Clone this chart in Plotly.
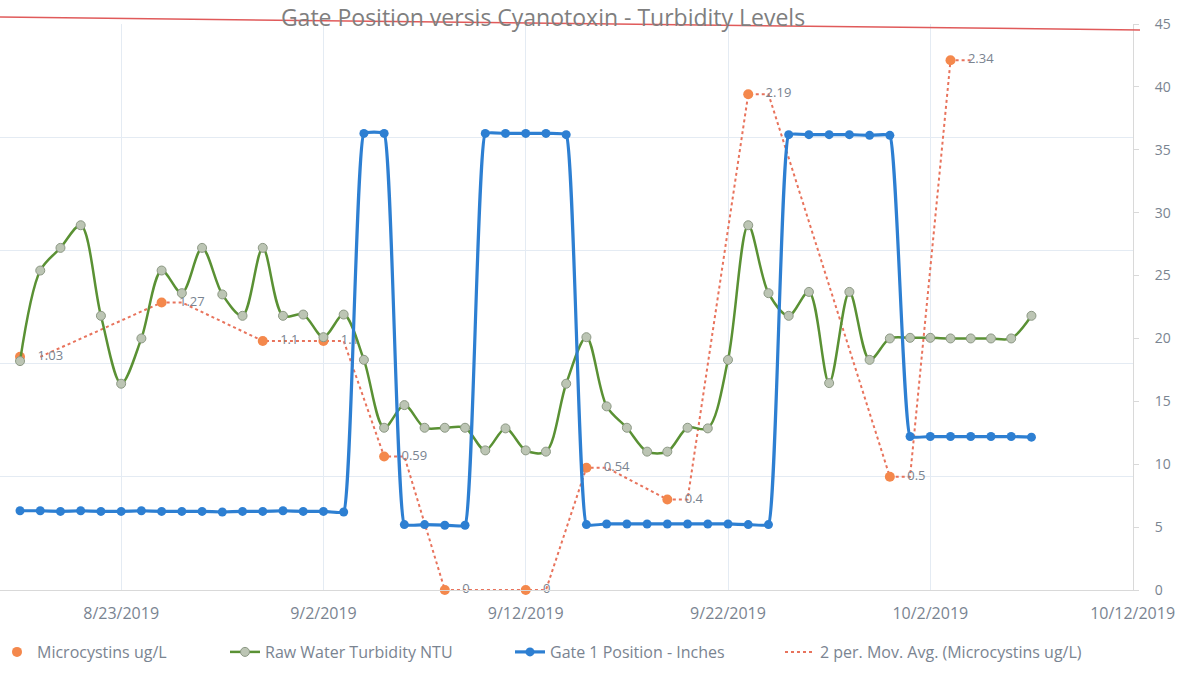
import plotly.graph_objects as go
import pandas as pd

# ---------------- data ----------------
day_start = "2019-08-18"
day_end = "2019-10-07"
days = [d.strftime("%Y-%m-%d") for d in pd.date_range(day_start, day_end, freq="D")]

turbidity_ntu = [
    18.2, 25.4, 27.2, 29.0, 21.8, 16.4, 20.0, 25.4, 23.6, 27.2, 23.5, 21.8, 27.2, 21.8,   # 8/18-8/31
    21.9, 20.1, 21.9, 18.3, 12.9, 14.7, 12.9, 12.9, 12.9, 11.1, 12.85, 11.1, 11.0, 16.4, 20.1,  # 9/1-9/15
    14.6, 12.9, 11.0, 11.0, 12.9, 12.85, 18.3, 29.0, 23.6, 21.8, 23.7, 16.45, 23.7, 18.3,  # 9/16-9/29
    20.0, 20.05, 20.05, 20.0, 20.0, 20.0, 20.0, 21.8,                                      # 9/30-10/7
]

gate_inches = [
    6.3, 6.3, 6.25, 6.3, 6.25, 6.25, 6.3, 6.25, 6.25, 6.25, 6.2, 6.25, 6.25, 6.3, 6.25, 6.25, 6.2,  # 8/18-9/3
    36.3, 36.3,                                   # 9/4-9/5
    5.2, 5.2, 5.15, 5.15,                         # 9/6-9/9
    36.3, 36.3, 36.3, 36.3, 36.2,                 # 9/10-9/14
    5.2, 5.25, 5.25, 5.25, 5.25, 5.25, 5.25, 5.25, 5.2, 5.2,  # 9/15-9/24
    36.2, 36.2, 36.2, 36.2, 36.15, 36.15,         # 9/25-9/30
    12.2, 12.2, 12.2, 12.2, 12.2, 12.2, 12.15,    # 10/1-10/7
]

micro_dates = ["2019-08-18", "2019-08-25", "2019-08-30", "2019-09-02", "2019-09-05", "2019-09-08",
               "2019-09-12", "2019-09-15", "2019-09-19", "2019-09-23", "2019-09-30", "2019-10-03"]
micro_ugl = [1.03, 1.27, 1.1, 1.1, 0.59, 0, 0, 0.54, 0.4, 2.19, 0.5, 2.34]

x_tick_start = "2019-08-13"
x_range = ["2019-08-17 00:15", "2019-10-12 00:30"]

# 2-period moving average trendline of the microcystin series (daily rows, blanks ignored)
micro_by_day = dict(zip(micro_dates, micro_ugl))
ma_x, ma_y = [], []
for i in range(1, len(days)):
    win = [micro_by_day.get(d) for d in (days[i - 1], days[i])]
    win = [w for w in win if w is not None]
    if win:
        ma_x.append(days[i])
        ma_y.append(sum(win) / len(win))

micro_labels = ["\u00a0\u00a0\u00a0" + f"{v:g}" for v in micro_ugl]

# ---------------- figure ----------------
W, H = 1183, 683
L, R, T, B = 0, 50, 24, 93
PW, PH = W - L - R, H - T - B
FONT = "Open Sans"
GREY = "#7A8491"

def px_x(p):
    return (p - L) / PW

def px_y(p):
    return (H - B - p) / PH

fig = go.Figure()

fig.add_trace(go.Scatter(
    x=ma_x, y=ma_y, mode="lines", yaxis="y",
    line=dict(color="#E8735C", width=2, dash="dot"),
    name="2 per. Mov. Avg. (Microcystins ug/L)", legend="legend4",
    hoverinfo="skip",
))
fig.add_trace(go.Scatter(
    x=micro_dates, y=micro_ugl, mode="markers+text", yaxis="y",
    marker=dict(color="#F4884C", size=10),
    text=micro_labels, textposition="middle right",
    textfont=dict(family=FONT, size=13, color=GREY),
    cliponaxis=False,
    name="Microcystins ug/L", legend="legend",
))
fig.add_trace(go.Scatter(
    x=days, y=turbidity_ntu, mode="lines+markers", yaxis="y2",
    line=dict(color="#5A9134", width=2.5, shape="spline", smoothing=0.9),
    marker=dict(size=9, color="#BCC5B4", line=dict(color="#8C9884", width=1)),
    name="Raw Water Turbidity NTU", legend="legend2",
))
fig.add_trace(go.Scatter(
    x=days, y=gate_inches, mode="lines+markers", yaxis="y2",
    line=dict(color="#2D7FD2", width=3.2, shape="spline", smoothing=0.3),
    marker=dict(size=9, color="#2D7FD2"),
    name="Gate 1 Position - Inches", legend="legend3",
))

leg_common = dict(orientation="h", xanchor="left", yanchor="middle",
                  bgcolor="rgba(0,0,0,0)", font=dict(family=FONT, size=16, color=GREY))
leg_y = px_y(652)

fig.update_layout(
    width=W, height=H,
    margin=dict(l=L, r=R, t=T, b=B, autoexpand=False),
    paper_bgcolor="white", plot_bgcolor="white",
    title=dict(text="Gate Position versis Cyanotoxin - Turbidity Levels",
               xref="container", yref="container", x=543 / W, y=1 - 18 / H,
               xanchor="center", yanchor="middle",
               font=dict(family=FONT, size=23, color="#7F7F7F")),
    xaxis=dict(type="date", range=x_range, tick0=x_tick_start, dtick=864000000,
               tickformat="%-m/%-d/%Y", showgrid=True, gridcolor="#E4EBF3",
               showline=True, linecolor="#D9D9D9", ticks="", zeroline=False,
               ticklabelstandoff=9,
               tickfont=dict(family=FONT, size=16, color=GREY)),
    yaxis=dict(range=[0, 2.5], dtick=0.5, showgrid=True, gridcolor="#E4EBF3",
               showticklabels=False, zeroline=False),
    yaxis2=dict(overlaying="y", side="right", range=[0, 45], dtick=5, showgrid=False,
                showline=True, linecolor="#D9D9D9", ticks="outside", ticklen=5,
                tickcolor="#D9D9D9", zeroline=False, ticklabelstandoff=13,
                tickfont=dict(family=FONT, size=14, color=GREY)),
    legend=dict(x=px_x(-3), y=leg_y, **leg_common),
    legend2=dict(x=px_x(225), y=leg_y, **leg_common),
    legend3=dict(x=px_x(510), y=leg_y, **leg_common),
    legend4=dict(x=px_x(780), y=leg_y, **leg_common),
    showlegend=True,
)

fig.add_shape(type="line", xref="paper", yref="paper",
              x0=0, y0=px_y(17), x1=px_x(1140), y1=px_y(30),
              line=dict(color="#E05A5A", width=1.5))

fig.write_html("out.html", config={"displayModeBar": False},
               post_script="document.body.style.margin='0px';")
